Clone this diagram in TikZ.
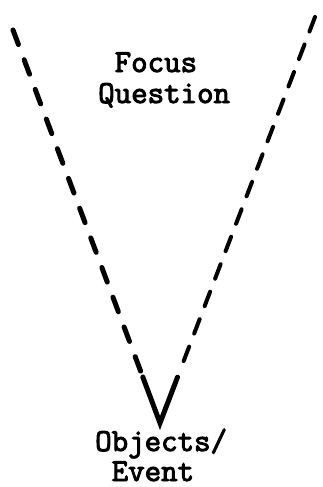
\documentclass[tikz,border=0pt]{standalone}
\usepackage{fontspec}
\newfontfamily\vfont{Latin Modern Mono}[FakeBold=3]
\usetikzlibrary{positioning,calc}

\begin{document}
\begin{tikzpicture}[
    x=1pt, y=-1pt,
    armleft/.style={line width=5pt, line cap=round, dash pattern=on 15.5pt off 16.2pt},
    armright/.style={line width=4pt, line cap=round, dash pattern=on 15.5pt off 13.9pt},
    vmark/.style={line width=5pt, line cap=round, line join=miter},
    vtext/.style={font=\vfont\fontsize{32}{31}\selectfont, align=left, inner sep=0pt, anchor=base west},
]
\useasboundingbox (0,0) rectangle (323,487);

% ---- the V: two dashed arms, solid tip ----
\coordinate (topl) at (13,30);
\coordinate (topr) at (315,17);
\coordinate (tip) at (160,423);
\coordinate (tipl) at ($(tip)!0.117!(topl)$);
\coordinate (tipr) at ($(tip)!0.113!(topr)$);

\draw[armleft] (topl) -- ($(tip)!0.13!(topl)$);
\draw[armright] (topr) -- ($(tip)!0.15!(topr)$);
\draw[vmark] (tipl) -- (tip) -- (tipr);

% ---- texts ----
\node[vtext] (focus) at (98,103) {\phantom{Q}Focus\\Question};
\node[vtext, font=\vfont\fontsize{32}{30}\selectfont] (objects) at (95,481) {Objects/\\\phantom{O}Event};

\end{tikzpicture}
\end{document}
